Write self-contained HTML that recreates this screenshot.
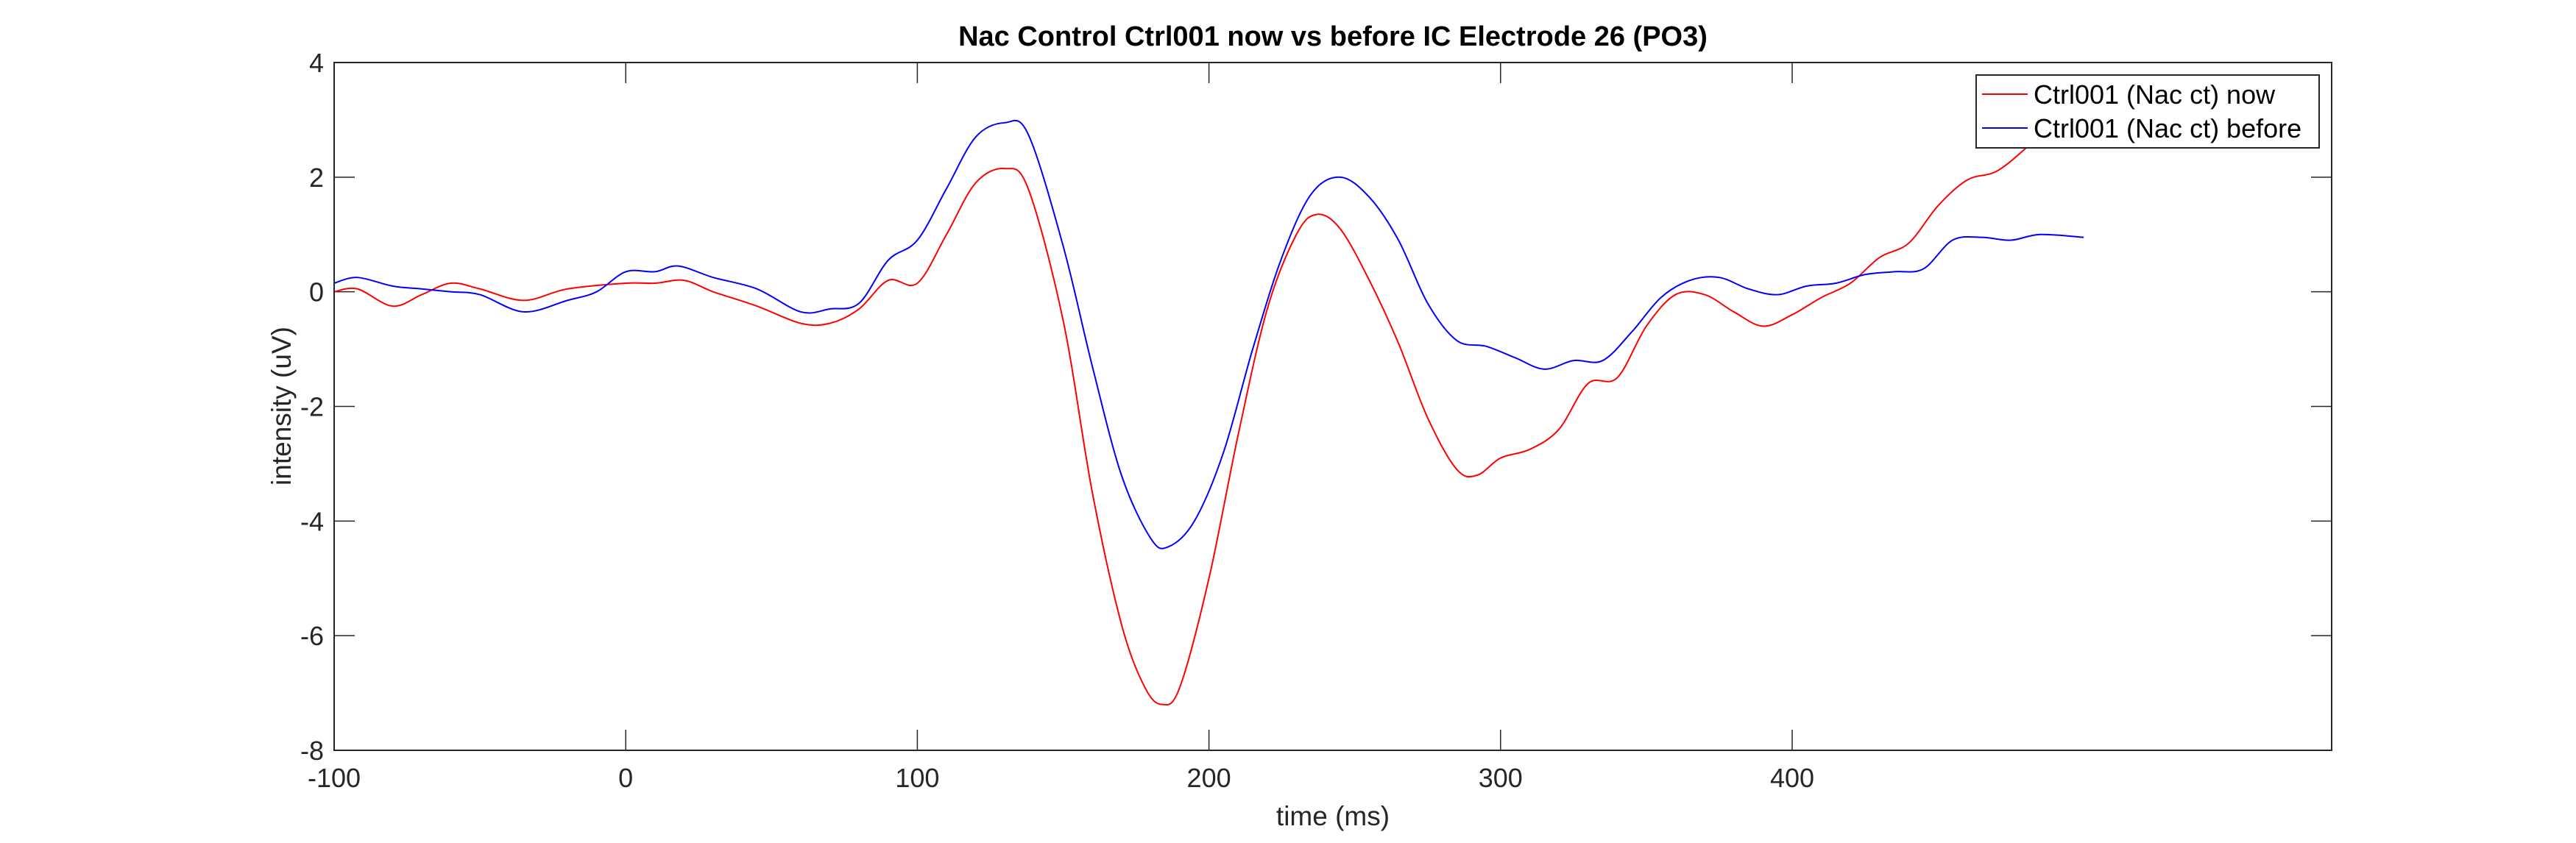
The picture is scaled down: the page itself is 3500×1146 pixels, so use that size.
<!DOCTYPE html>
<html><head><meta charset="utf-8"><style>
html,body{margin:0;padding:0;background:#fff;}
svg{display:block;font-family:"Liberation Sans",Arial,sans-serif;}
</style></head><body>
<svg id="chart" width="3500" height="1146" viewBox="0 0 3500 1146">
<rect x="0" y="0" width="3500" height="1146" fill="#fff"/>
<g id="ticks"></g>
<g id="lines"></g>
<rect x="454" y="85" width="2714" height="935" fill="none" stroke="#262626" stroke-width="2"/>
<text x="1811" y="62" font-size="38" font-weight="bold" text-anchor="middle" fill="#000">Nac Control Ctrl001 now vs before IC Electrode 26 (PO3)</text>
<text x="1811" y="1122" font-size="37" text-anchor="middle" fill="#262626">time (ms)</text>
<text x="0" y="0" font-size="37" text-anchor="middle" fill="#262626" transform="translate(395,552) rotate(-90)">intensity (uV)</text>
<g>
<rect x="2685" y="102" width="466" height="99" fill="#fff" stroke="#262626" stroke-width="2"/>
<line x1="2693" y1="128" x2="2755" y2="128" stroke="#f00" stroke-width="2"/>
<text x="2763" y="141" font-size="36" fill="#000">Ctrl001 (Nac ct) now</text>
<line x1="2693" y1="174" x2="2755" y2="174" stroke="#00f" stroke-width="2"/>
<text x="2763" y="187" font-size="36" fill="#000">Ctrl001 (Nac ct) before</text>
</g>
</svg>
<script>
const xTicks=[-100,0,100,200,300,400];
const yTicks=[-8,-6,-4,-2,0,2,4];
const nowT=[-100,-92,-80,-70,-60,-50,-35,-20,0,10,20,30,45,60,70,80,90,100,110,120,130,138,150,160,170,178,184,190,200,210,220,230,237,245,255,265,275,285,292,300,310,320,330,340,350,360,370,380,390,400,410,420,430,440,450,460,470,480,490,498];
const nowV=[0,0.05,-0.25,-0.05,0.15,0.05,-0.15,0.05,0.15,0.15,0.2,0,-0.25,-0.55,-0.55,-0.3,0.2,0.15,1.0,1.9,2.15,1.8,-0.5,-3.5,-5.8,-6.9,-7.2,-6.9,-5.0,-2.5,-0.3,1.0,1.35,1.1,0.2,-0.9,-2.2,-3.1,-3.2,-2.9,-2.75,-2.4,-1.6,-1.5,-0.6,-0.05,-0.05,-0.35,-0.6,-0.4,-0.1,0.15,0.6,0.85,1.5,1.95,2.1,2.5,3.0,3.3];
const beforeT=[-100,-92,-80,-70,-60,-50,-35,-20,-10,0,10,18,30,45,60,70,80,90,100,110,120,130,138,150,160,170,180,186,195,205,215,225,235,245,255,265,275,285,295,305,315,325,335,345,355,365,375,385,395,405,415,425,435,445,455,465,475,485,500];
const beforeV=[0.15,0.25,0.1,0.05,0,-0.05,-0.35,-0.15,0,0.35,0.35,0.45,0.25,0.05,-0.35,-0.3,-0.2,0.55,0.9,1.8,2.7,2.95,2.75,0.8,-1.3,-3.2,-4.3,-4.45,-4.0,-2.8,-1.0,0.6,1.7,2.0,1.65,0.9,-0.2,-0.85,-0.95,-1.15,-1.35,-1.2,-1.2,-0.7,-0.1,0.2,0.25,0.05,-0.05,0.1,0.15,0.3,0.35,0.4,0.9,0.95,0.9,1.0,0.95];

const NS='http://www.w3.org/2000/svg';
const xs=t=>454+(t+100)*3.962;
const ys=v=>85+(4-v)*(935/12);
const tg=document.getElementById('ticks');
xTicks.forEach(t=>{
  const x=xs(t);
  const l1=document.createElementNS(NS,'path');
  l1.setAttribute('d',`M${x},1020V992M${x},85V113`);
  l1.setAttribute('stroke','#262626');l1.setAttribute('stroke-width','1.5');
  
  
  tg.appendChild(l1);
  const tx=document.createElementNS(NS,'text');
  tx.setAttribute('x',x);tx.setAttribute('y',1070);tx.setAttribute('font-size','36');
  tx.setAttribute('text-anchor','middle');tx.setAttribute('fill','#262626');
  tx.textContent=t;
  
  
  tg.appendChild(tx);
});
yTicks.forEach(v=>{
  const y=ys(v);
  const l1=document.createElementNS(NS,'path');
  l1.setAttribute('d',`M454,${y}H482M3168,${y}H3140`);
  l1.setAttribute('stroke','#262626');l1.setAttribute('stroke-width','1.5');
  
  
  tg.appendChild(l1);
  const tx=document.createElementNS(NS,'text');
  tx.setAttribute('x',440);tx.setAttribute('y',y+13);tx.setAttribute('font-size','36');
  tx.setAttribute('text-anchor','end');tx.setAttribute('fill','#262626');
  tx.textContent=v;
  
  
  tg.appendChild(tx);
});
function smooth(T,V){
  const p=T.map((t,i)=>[xs(t),ys(V[i])]);
  let d=`M${p[0][0]},${p[0][1]}`;
  for(let i=0;i<p.length-1;i++){
    const p0=p[i-1]||p[i],p1=p[i],p2=p[i+1],p3=p[i+2]||p2;
    const c1=[p1[0]+(p2[0]-p0[0])/6,p1[1]+(p2[1]-p0[1])/6];
    const c2=[p2[0]-(p3[0]-p1[0])/6,p2[1]-(p3[1]-p1[1])/6];
    d+=`C${c1[0]},${c1[1]} ${c2[0]},${c2[1]} ${p2[0]},${p2[1]}`;
  }
  return d;
}
const lg=document.getElementById('lines');
const a=document.createElementNS(NS,'path');
a.setAttribute('d',smooth(nowT,nowV));a.setAttribute('fill','none');a.setAttribute('stroke','#f00');a.setAttribute('stroke-width','2');


lg.appendChild(a);
const b=document.createElementNS(NS,'path');
b.setAttribute('d',smooth(beforeT,beforeV));b.setAttribute('fill','none');b.setAttribute('stroke','#00f');b.setAttribute('stroke-width','2');


lg.appendChild(b);
</script>
</body></html>
